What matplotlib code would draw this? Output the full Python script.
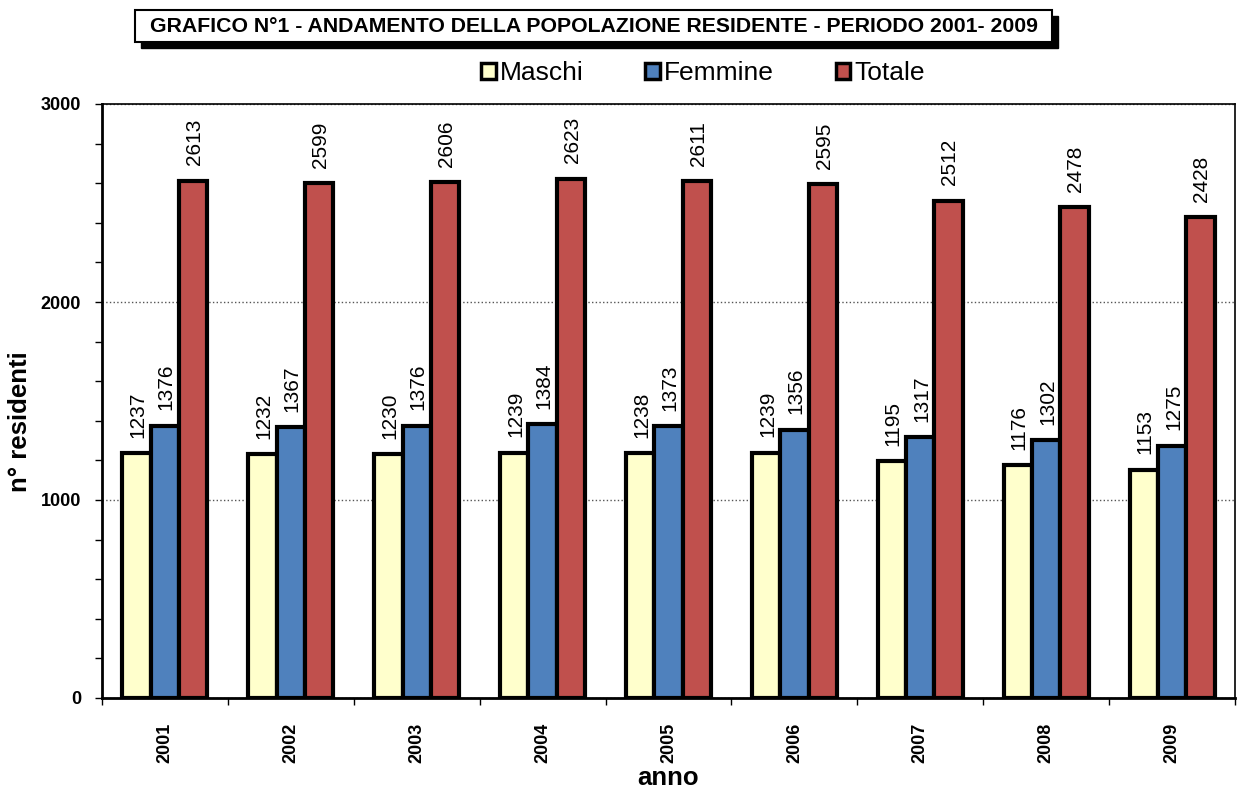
import matplotlib
matplotlib.use("Agg")
import matplotlib.pyplot as plt
from matplotlib.patches import Rectangle, Patch
from matplotlib.ticker import MultipleLocator, FixedLocator
import numpy as np

plt.rcParams['font.family'] = ['Liberation Sans', 'DejaVu Sans']

# dati
anni = ['2001', '2002', '2003', '2004', '2005', '2006', '2007', '2008', '2009']
maschi = [1237, 1232, 1230, 1239, 1238, 1239, 1195, 1176, 1153]
femmine = [1376, 1367, 1376, 1384, 1373, 1356, 1317, 1302, 1275]
totale = [2613, 2599, 2606, 2623, 2611, 2595, 2512, 2478, 2428]

serie = [('Maschi', maschi, '#FFFFCC'),
         ('Femmine', femmine, '#4F81BD'),
         ('Totale', totale, '#C0504D')]

W, H = 1238, 792
fig = plt.figure(figsize=(W / 100, H / 100), dpi=100)
ax = fig.add_axes([102 / W, 94 / H, 1133 / W, 594 / H])

x = np.arange(len(anni))
bw = 0.225
for k, (nome, vals, col) in enumerate(serie):
    pos = x + (k - 1) * bw
    ax.bar(pos, vals, width=bw, color=col, edgecolor='black', linewidth=3,
           label=nome, zorder=3)
    for px, v in zip(pos, vals):
        ax.annotate(str(v), (px, v), xytext=(1, 11), textcoords='offset points',
                    rotation=90, ha='center', va='bottom', fontsize=15)

ax.set_xlim(-0.5, len(anni) - 0.5)
ax.set_ylim(0, 3000)

# asse y
ax.yaxis.set_major_locator(MultipleLocator(1000))
ax.yaxis.set_minor_locator(MultipleLocator(200))
ax.tick_params(axis='y', which='both', direction='out', length=5, width=1, pad=10,
               labelsize=13)
for lab in ax.get_yticklabels():
    lab.set_fontweight('bold')
ax.yaxis.grid(True, which='major', linestyle=':', color='#555555', linewidth=1, zorder=0)

# asse x: tacche ai confini, etichette al centro
ax.xaxis.set_major_locator(FixedLocator(np.arange(-0.5, len(anni), 1.0)))
ax.xaxis.set_minor_locator(FixedLocator(x))
ax.set_xticklabels([], minor=False)
ax.set_xticks(x, anni, minor=True, rotation=90, fontsize=13, fontweight='bold')
ax.tick_params(axis='x', which='major', direction='out', length=5, width=1)
ax.tick_params(axis='x', which='minor', length=0, pad=18)

for s in ax.spines.values():
    s.set_linewidth(1.2)
ax.spines['left'].set_linewidth(2)
ax.spines['bottom'].set_linewidth(2)

ax.set_xlabel('anno', fontsize=18.5, fontweight='bold', va='top')
ax.xaxis.set_label_coords(0.5, -0.115)
ax.set_ylabel('n° residenti', fontsize=18.5, fontweight='bold', va='top')
ax.yaxis.set_label_coords(-0.083, 0.466)

# titolo con riquadro e ombra
bx0, bx1, by0, by1 = 135, 1052, 10, 42
fig.patches.append(Rectangle(((bx0 + 6) / W, 1 - (by1 + 6) / H), (bx1 - bx0) / W,
                             (by1 - by0) / H, transform=fig.transFigure,
                             facecolor='black', edgecolor='black', zorder=1))
fig.patches.append(Rectangle((bx0 / W, 1 - by1 / H), (bx1 - bx0) / W,
                             (by1 - by0) / H, transform=fig.transFigure,
                             facecolor='white', edgecolor='black', linewidth=1.5, zorder=2))
fig.text((bx0 + bx1) / 2 / W, 1 - 27 / H,
         'GRAFICO N°1 - ANDAMENTO DELLA POPOLAZIONE RESIDENTE - PERIODO 2001- 2009',
         ha='center', va='center', fontsize=15.3, fontweight='bold', zorder=3)

# legenda
handles = [Patch(facecolor=c, edgecolor='black', linewidth=2.5, label=n) for n, _, c in serie]
fig.legend(handles=handles, loc='center', bbox_to_anchor=(703 / W, 1 - 73 / H),
           ncol=3, frameon=False, fontsize=19, handlelength=0.55, handleheight=0.55,
           handletextpad=0.15, columnspacing=2.35, borderpad=0)

fig.savefig('out.png', dpi=100)
